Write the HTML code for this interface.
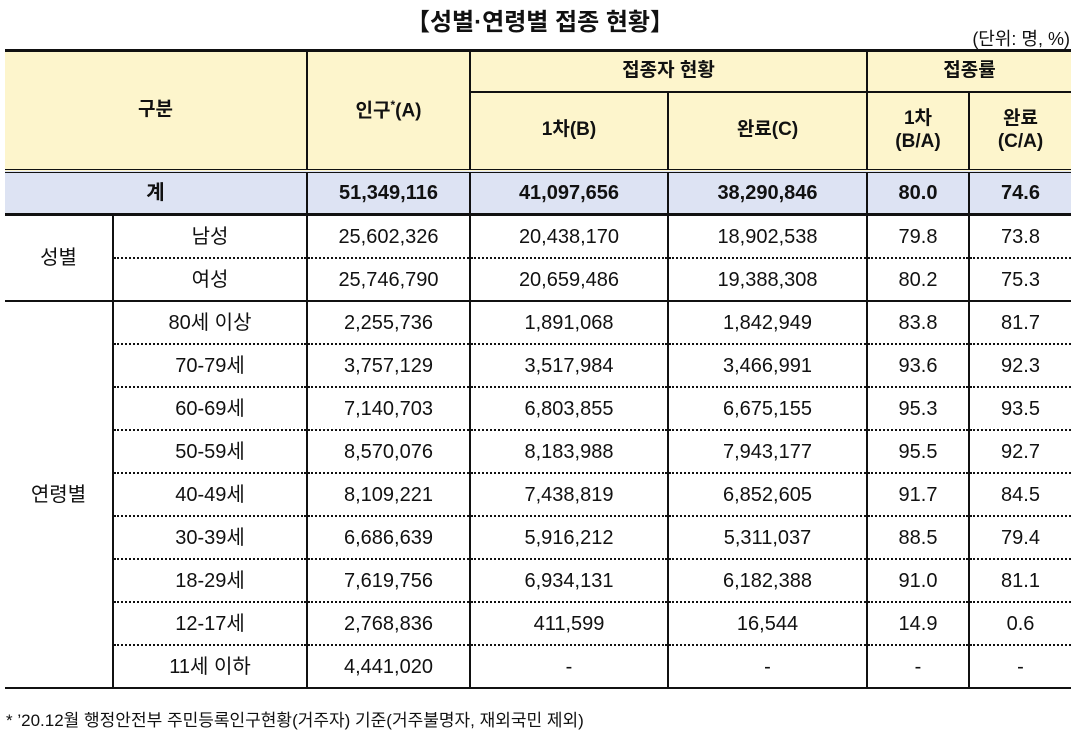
<!DOCTYPE html>
<html><head><meta charset="utf-8">
<style>
body{margin:0;width:1080px;height:741px;background:#fff;font-family:"Liberation Sans","Noto Sans CJK KR",sans-serif;color:#111;position:relative;overflow:hidden}
#title{position:absolute;left:0;width:1080px;top:2px;text-align:center;font-size:24px;font-weight:bold}
#unit{position:absolute;right:10px;top:25px;font-size:18px}
table{position:absolute;left:5px;top:49px;border-collapse:collapse;table-layout:fixed;width:1066px}
td{text-align:center;vertical-align:middle;font-size:20px;padding:0;border-left:2px solid #111;border-right:2px solid #111;line-height:1.2}
tr.h td{background:#fdf5cc;font-weight:bold;border:2px solid #111;font-size:19px}
tr.h1 td{border-top:3px solid #111}
tr.tot td{background:#dde3f3;font-weight:bold;border-top:4px double #111;border-bottom:3px solid #111}
tr.d td{height:41px;border-bottom:2px dotted #111}
tr.end td{border-bottom:2px solid #111}
tr td.grp{border-bottom:2px solid #111;border-left:none}
tr td.first{border-left:none}
tr td.last{border-right:none}
#foot{position:absolute;left:6px;top:706px;font-size:17px}
</style></head><body>
<div id="title">【성별·연령별 접종 현황】</div>
<div id="unit">(단위: 명, %)</div>
<table>
<colgroup><col style="width:108px"><col style="width:194px"><col style="width:163px"><col style="width:198px"><col style="width:199px"><col style="width:102px"><col style="width:102px"></colgroup>
<tr class="h h1" style="height:41px">
<td colspan="2" rowspan="2" class="first">구분</td>
<td rowspan="2">인구<sup style="font-size:12px">*</sup>(A)</td>
<td colspan="2">접종자 현황</td>
<td colspan="2" class="last">접종률</td></tr>
<tr class="h" style="height:79px">
<td>1차(B)</td>
<td>완료(C)</td>
<td>1차<br>(B/A)</td>
<td class="last">완료<br>(C/A)</td></tr>
<tr class="tot" style="height:44px">
<td colspan="2" class="first">계</td><td>51,349,116</td><td>41,097,656</td><td>38,290,846</td><td>80.0</td><td class="last">74.6</td></tr>
<tr class="d"><td rowspan="2" class="grp">성별</td><td>남성</td><td>25,602,326</td><td>20,438,170</td><td>18,902,538</td><td>79.8</td><td class="last">73.8</td></tr>
<tr class="d end"><td>여성</td><td>25,746,790</td><td>20,659,486</td><td>19,388,308</td><td>80.2</td><td class="last">75.3</td></tr>
<tr class="d"><td rowspan="9" class="grp">연령별</td><td>80세 이상</td><td>2,255,736</td><td>1,891,068</td><td>1,842,949</td><td>83.8</td><td class="last">81.7</td></tr>
<tr class="d"><td>70-79세</td><td>3,757,129</td><td>3,517,984</td><td>3,466,991</td><td>93.6</td><td class="last">92.3</td></tr>
<tr class="d"><td>60-69세</td><td>7,140,703</td><td>6,803,855</td><td>6,675,155</td><td>95.3</td><td class="last">93.5</td></tr>
<tr class="d"><td>50-59세</td><td>8,570,076</td><td>8,183,988</td><td>7,943,177</td><td>95.5</td><td class="last">92.7</td></tr>
<tr class="d"><td>40-49세</td><td>8,109,221</td><td>7,438,819</td><td>6,852,605</td><td>91.7</td><td class="last">84.5</td></tr>
<tr class="d"><td>30-39세</td><td>6,686,639</td><td>5,916,212</td><td>5,311,037</td><td>88.5</td><td class="last">79.4</td></tr>
<tr class="d"><td>18-29세</td><td>7,619,756</td><td>6,934,131</td><td>6,182,388</td><td>91.0</td><td class="last">81.1</td></tr>
<tr class="d"><td>12-17세</td><td>2,768,836</td><td>411,599</td><td>16,544</td><td>14.9</td><td class="last">0.6</td></tr>
<tr class="d end"><td>11세 이하</td><td>4,441,020</td><td>-</td><td>-</td><td>-</td><td class="last">-</td></tr>
</table>
<div id="foot">* ’20.12월 행정안전부 주민등록인구현황(거주자) 기준(거주불명자, 재외국민 제외)</div>
</body></html>
